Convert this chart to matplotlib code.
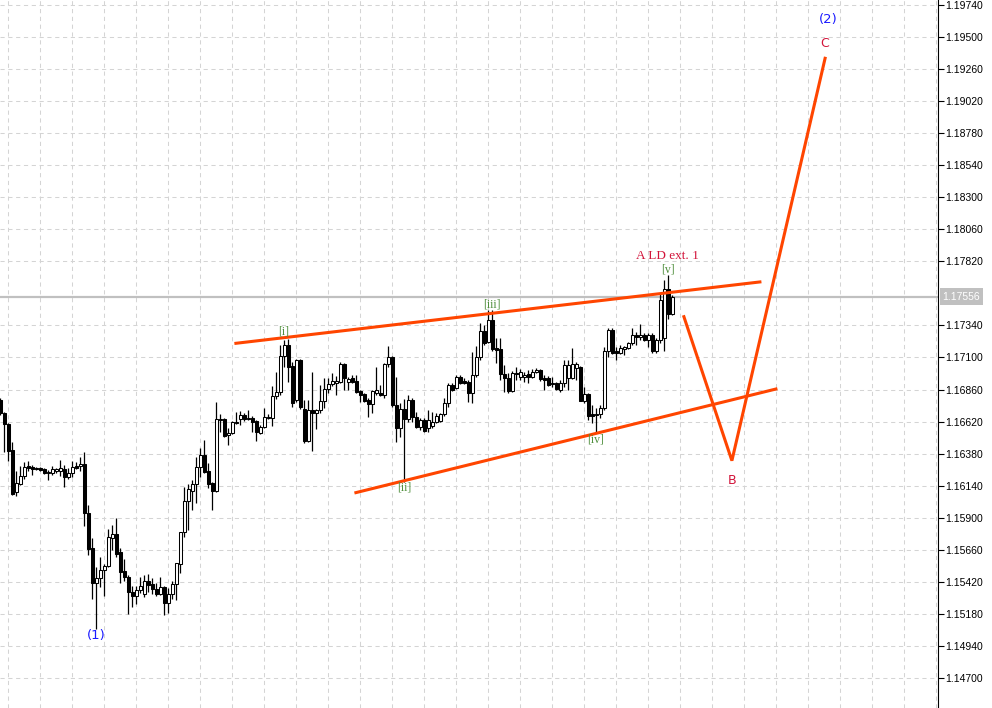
import matplotlib
matplotlib.use("Agg")
from matplotlib import pyplot as plt
import matplotlib.transforms as mtransforms
import numpy as np

# EURUSD-like bars (left to right)
opens = [
    1.16782, 1.16685, 1.16603, 1.16408, 1.16094, 1.16154, 1.16214, 1.16289, 1.16281, 1.16274,
    1.16274, 1.16266, 1.16237, 1.16237, 1.16252, 1.16252, 1.16266, 1.16207, 1.16237, 1.16289,
    1.16289, 1.16303, 1.15937, 1.15675, 1.15414, 1.15451, 1.15511, 1.15540, 1.15750, 1.15780,
    1.15645, 1.15503, 1.15459, 1.15346, 1.15316, 1.15361, 1.15331, 1.15429, 1.15406, 1.15369,
    1.15331, 1.15384, 1.15264, 1.15331, 1.15406, 1.15555, 1.15795, 1.16027, 1.16102, 1.16154,
    1.16281, 1.16371, 1.16252, 1.16162, 1.16102, 1.16633, 1.16640, 1.16521, 1.16536, 1.16611,
    1.16640, 1.16670, 1.16640, 1.16648, 1.16626, 1.16536, 1.16581, 1.16648, 1.16648, 1.16812,
    1.16842, 1.17111, 1.17193, 1.17036, 1.16782, 1.17081, 1.16715, 1.16476, 1.16707, 1.16685,
    1.16707, 1.16775, 1.16864, 1.16902, 1.16909, 1.16917, 1.17051, 1.16917, 1.16947, 1.16924,
    1.16849, 1.16827, 1.16782, 1.16752, 1.16834, 1.16834, 1.16820, 1.17051, 1.17103, 1.16745,
    1.16573, 1.16715, 1.16640, 1.16782, 1.16655, 1.16581, 1.16633, 1.16573, 1.16588, 1.16618,
    1.16626, 1.16677, 1.16760, 1.16894, 1.16872, 1.16954, 1.16924, 1.16917, 1.16834, 1.16969,
    1.17103, 1.17298, 1.17216, 1.17381, 1.17171, 1.17163, 1.16977, 1.16947, 1.16849, 1.16984,
    1.16954, 1.16954, 1.16977, 1.16954, 1.16992, 1.17007, 1.16947, 1.16947, 1.16909, 1.16909,
    1.16857, 1.16909, 1.16947, 1.16947, 1.17022, 1.17029, 1.16775, 1.16827, 1.16677, 1.16677,
    1.16677, 1.16722, 1.17148, 1.17306, 1.17148, 1.17133, 1.17163, 1.17171, 1.17208, 1.17268,
    1.17253, 1.17268, 1.17231, 1.17268, 1.17148, 1.17231, 1.17246, 1.17612, 1.17425,
]
highs = [
    1.16797, 1.16692, 1.16611, 1.16468, 1.16252, 1.16289, 1.16318, 1.16326, 1.16296, 1.16281,
    1.16281, 1.16274, 1.16259, 1.16289, 1.16274, 1.16333, 1.16296, 1.16274, 1.16326, 1.16318,
    1.16356, 1.16393, 1.15997, 1.15750, 1.15533, 1.15608, 1.15555, 1.15817, 1.15847, 1.15900,
    1.15675, 1.15593, 1.15474, 1.15391, 1.15391, 1.15459, 1.15474, 1.15481, 1.15451, 1.15414,
    1.15459, 1.15391, 1.15376, 1.15429, 1.15488, 1.15720, 1.16132, 1.16154, 1.16184, 1.16356,
    1.16423, 1.16483, 1.16311, 1.16169, 1.16767, 1.16677, 1.16648, 1.16573, 1.16626, 1.16692,
    1.16700, 1.16685, 1.16707, 1.16663, 1.16633, 1.16596, 1.16722, 1.16677, 1.16887, 1.16992,
    1.17193, 1.17231, 1.17238, 1.17066, 1.17088, 1.17088, 1.16782, 1.16782, 1.16992, 1.16715,
    1.16894, 1.16947, 1.16947, 1.16984, 1.16962, 1.17066, 1.17059, 1.16954, 1.16969, 1.16969,
    1.16857, 1.16834, 1.16797, 1.16857, 1.17029, 1.16894, 1.17059, 1.17186, 1.17111, 1.16954,
    1.16760, 1.16790, 1.16820, 1.16797, 1.16692, 1.16648, 1.16648, 1.16707, 1.16692, 1.16685,
    1.16685, 1.16797, 1.16909, 1.16909, 1.16969, 1.16969, 1.16947, 1.16932, 1.17141, 1.17186,
    1.17358, 1.17343, 1.17455, 1.17455, 1.17246, 1.17246, 1.17044, 1.16984, 1.16999, 1.17029,
    1.17014, 1.16992, 1.17007, 1.17014, 1.17022, 1.17014, 1.16969, 1.16962, 1.16954, 1.16917,
    1.16932, 1.17081, 1.17081, 1.17171, 1.17066, 1.17036, 1.16879, 1.16834, 1.16745, 1.16722,
    1.16745, 1.17178, 1.17320, 1.17320, 1.17178, 1.17193, 1.17186, 1.17216, 1.17320, 1.17291,
    1.17351, 1.17283, 1.17283, 1.17283, 1.17246, 1.17582, 1.17680, 1.17717, 1.17567,
]
lows = [
    1.16670, 1.16393, 1.16326, 1.16071, 1.16064, 1.16147, 1.16192, 1.16252, 1.16222, 1.16259,
    1.16252, 1.16229, 1.16184, 1.16222, 1.16237, 1.16214, 1.16132, 1.16192, 1.16207, 1.16266,
    1.16252, 1.15840, 1.15623, 1.15293, 1.15069, 1.15384, 1.15316, 1.15533, 1.15660, 1.15608,
    1.15414, 1.15429, 1.15182, 1.15234, 1.15256, 1.15339, 1.15309, 1.15346, 1.15331, 1.15316,
    1.15324, 1.15174, 1.15189, 1.15293, 1.15286, 1.15488, 1.15757, 1.15810, 1.15959, 1.16012,
    1.16207, 1.16237, 1.16124, 1.15959, 1.16094, 1.16543, 1.16506, 1.16446, 1.16528, 1.16603,
    1.16596, 1.16626, 1.16633, 1.16543, 1.16476, 1.16528, 1.16573, 1.16640, 1.16588, 1.16790,
    1.16820, 1.17029, 1.16917, 1.16730, 1.16767, 1.16715, 1.16461, 1.16468, 1.16401, 1.16566,
    1.16685, 1.16722, 1.16834, 1.16887, 1.16820, 1.16909, 1.16857, 1.16857, 1.16909, 1.16834,
    1.16767, 1.16767, 1.16655, 1.16685, 1.16820, 1.16812, 1.16797, 1.17029, 1.16730, 1.16468,
    1.16506, 1.16169, 1.16618, 1.16618, 1.16573, 1.16558, 1.16543, 1.16543, 1.16573, 1.16611,
    1.16618, 1.16663, 1.16730, 1.16849, 1.16864, 1.16902, 1.16902, 1.16767, 1.16760, 1.16954,
    1.17081, 1.17193, 1.17208, 1.17148, 1.17059, 1.16932, 1.16842, 1.16834, 1.16842, 1.16932,
    1.16932, 1.16917, 1.16909, 1.16947, 1.16984, 1.16924, 1.16857, 1.16887, 1.16879, 1.16857,
    1.16842, 1.16879, 1.16857, 1.16939, 1.16932, 1.16775, 1.16760, 1.16633, 1.16611, 1.16543,
    1.16648, 1.16707, 1.17103, 1.17126, 1.17081, 1.17126, 1.17118, 1.17163, 1.17193, 1.17193,
    1.17231, 1.17223, 1.17178, 1.17133, 1.17133, 1.17208, 1.17148, 1.17388, 1.17418,
]
closes = [
    1.16685, 1.16603, 1.16401, 1.16079, 1.16162, 1.16214, 1.16281, 1.16274, 1.16266, 1.16266,
    1.16259, 1.16237, 1.16244, 1.16266, 1.16266, 1.16274, 1.16207, 1.16237, 1.16281, 1.16274,
    1.16303, 1.15937, 1.15667, 1.15414, 1.15451, 1.15511, 1.15540, 1.15757, 1.15780, 1.15630,
    1.15496, 1.15459, 1.15346, 1.15316, 1.15361, 1.15391, 1.15429, 1.15399, 1.15369, 1.15331,
    1.15384, 1.15264, 1.15331, 1.15406, 1.15563, 1.15795, 1.16027, 1.16117, 1.16154, 1.16281,
    1.16371, 1.16244, 1.16154, 1.16102, 1.16640, 1.16640, 1.16513, 1.16536, 1.16618, 1.16618,
    1.16670, 1.16640, 1.16648, 1.16618, 1.16543, 1.16581, 1.16655, 1.16655, 1.16812, 1.16842,
    1.17111, 1.17193, 1.17029, 1.16760, 1.17081, 1.16730, 1.16476, 1.16707, 1.16685, 1.16707,
    1.16775, 1.16864, 1.16902, 1.16924, 1.16924, 1.17051, 1.16947, 1.16939, 1.16917, 1.16842,
    1.16820, 1.16775, 1.16752, 1.16849, 1.16857, 1.16820, 1.17051, 1.17103, 1.16745, 1.16573,
    1.16715, 1.16640, 1.16782, 1.16655, 1.16581, 1.16633, 1.16551, 1.16633, 1.16618, 1.16663,
    1.16677, 1.16760, 1.16894, 1.16857, 1.16954, 1.16909, 1.16909, 1.16834, 1.16969, 1.17103,
    1.17298, 1.17208, 1.17381, 1.17163, 1.17156, 1.16977, 1.16947, 1.16849, 1.16984, 1.16977,
    1.16992, 1.16969, 1.16954, 1.16992, 1.17007, 1.16939, 1.16932, 1.16894, 1.16902, 1.16864,
    1.16909, 1.17044, 1.17044, 1.17051, 1.17051, 1.16775, 1.16827, 1.16663, 1.16663, 1.16670,
    1.16722, 1.17148, 1.17306, 1.17133, 1.17133, 1.17171, 1.17178, 1.17208, 1.17268, 1.17253,
    1.17268, 1.17231, 1.17268, 1.17148, 1.17231, 1.17530, 1.17612, 1.17425, 1.17556,
]

current_price = 1.17556
price_ticks = [1.14700, 1.14940, 1.15180, 1.15420, 1.15660, 1.15900, 1.16140, 1.16380,
               1.16620, 1.16860, 1.17100, 1.17340, 1.17820, 1.18060, 1.18300, 1.18540,
               1.18780, 1.19020, 1.19260, 1.19500, 1.19740]

# wedge lines and projected path (bar index, price)
upper_line = ([58.9, 189.9], [1.17206, 1.17665])
lower_line = ([88.9, 193.9], [1.16089, 1.16864])
abc_path = ([170.9, 182.9, 206.2], [1.17405, 1.16328, 1.19338])

wave_labels = ["[i]", "[ii]", "[iii]", "[iv]", "[v]"]
wave_x = [70.9, 100.9, 122.9, 148.9, 166.9]
wave_y = [1.17291, 1.16124, 1.17493, 1.16483, 1.17755]

fig = plt.figure(figsize=(9.92, 7.08), dpi=100)
ax = fig.add_axes([0, 0, 938 / 992, 1])
ax.set_xlim(-0.075, 234.425)
ax.set_ylim(1.14478, 1.19774)

# grid
ax.set_xticks(np.arange(2, 235, 8))
ax.set_yticks(price_ticks)
ax.set_yticklabels(["%.5f" % p for p in price_ticks], family="Liberation Sans")
ax.grid(True, color="#d4d4d4", linestyle=(0, (4, 3.5)), linewidth=0.75)
ax.set_axisbelow(True)
ax.tick_params(axis="x", length=0, labelbottom=False)
ax.yaxis.tick_right()
ax.tick_params(axis="y", direction="out", length=4, width=0.8, labelsize=7.5, pad=1.5)
for s in ["left", "top", "bottom"]:
    ax.spines[s].set_visible(False)
ax.spines["right"].set_linewidth(0.8)

# current price line
ax.axhline(current_price, color="#c0c0c0", linewidth=1.6, zorder=1)
trans = mtransforms.blended_transform_factory(ax.transAxes, ax.transData)
ax.text(1.005, current_price, "%.5f" % current_price, transform=trans, va="center", ha="left",
        fontsize=7.5, color="white", clip_on=False, family="Liberation Sans",
        bbox=dict(boxstyle="square,pad=0.3", fc="#c0c0c0", ec="none"))

# candles
o = np.array(opens)
h = np.array(highs)
l = np.array(lows)
c = np.array(closes)
x = np.arange(len(o))
ax.vlines(x, l, h, color="black", linewidth=0.9, zorder=2)
bull = c >= o
bottoms = np.minimum(o, c)
heights = np.abs(c - o)
ax.bar(x, heights, bottom=bottoms, width=0.65, color=np.where(bull, "white", "black"),
       edgecolor="black", linewidth=0.75, zorder=3)

# wedge and projection
red = "#ff4500"
ax.plot(*upper_line, color=red, linewidth=2.2, zorder=4)
ax.plot(*lower_line, color=red, linewidth=2.2, zorder=4)
ax.plot(*abc_path, color=red, linewidth=2.2, zorder=4, solid_joinstyle="miter")

# labels
for t, xx, yy in zip(wave_labels, wave_x, wave_y):
    ax.text(xx, yy, t, ha="center", va="center", fontsize=8.5, color="#4f8f3c",
            family="Liberation Serif", zorder=5)
ax.text(166.9, 1.17859, "A LD ext. 1", ha="center", va="center", fontsize=9.5,
        color="#d2143a", family="Liberation Serif")
ax.text(23.9, 1.15017, "(1)", ha="center", va="center", fontsize=9.5, color="#1a1aff")
ax.text(206.9, 1.19625, "(2)", ha="center", va="center", fontsize=9.5, color="#1a1aff")
ax.text(206.2, 1.19445, "C", ha="center", va="center", fontsize=9, color="#d2143a")
ax.text(182.9, 1.16177, "B", ha="center", va="center", fontsize=9, color="#d2143a")

fig.savefig("out.png", dpi=100)
